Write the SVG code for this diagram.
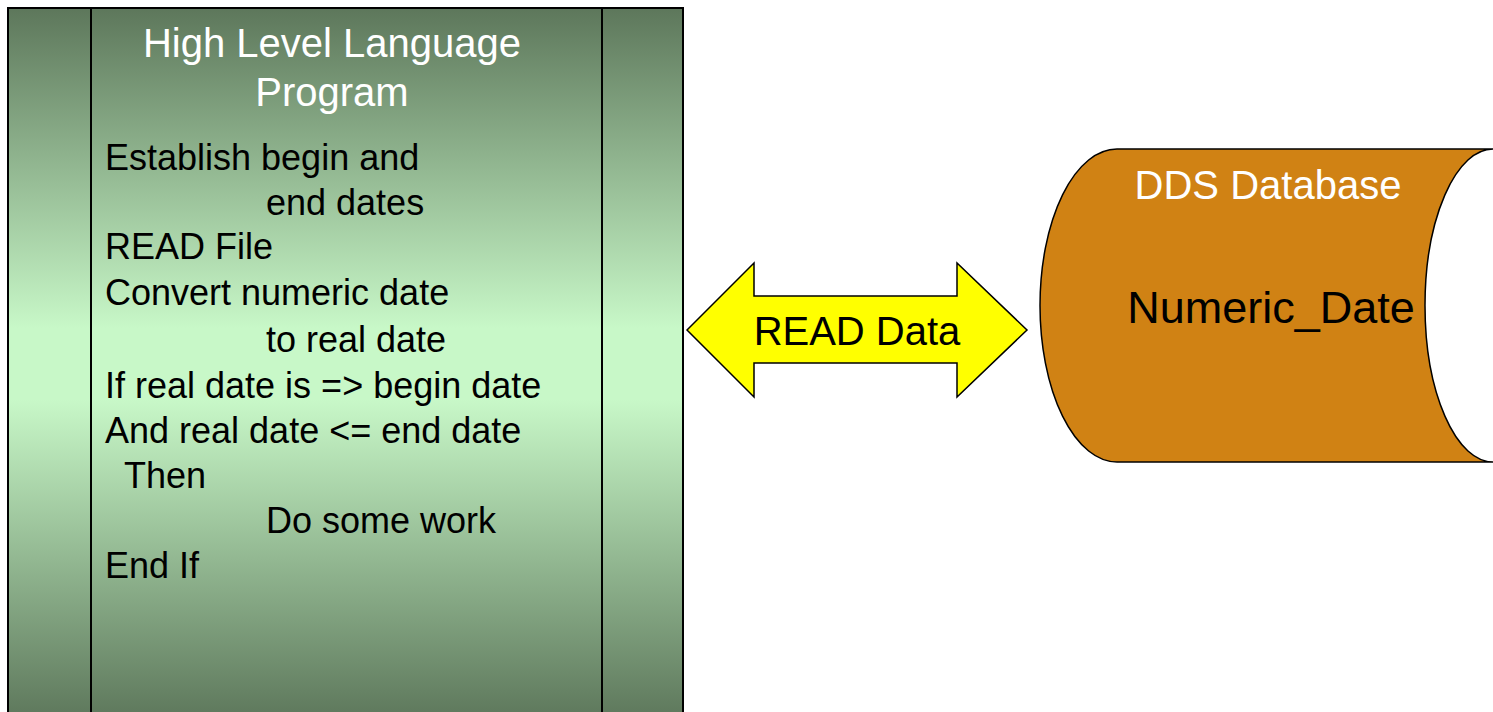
<svg xmlns="http://www.w3.org/2000/svg" width="1493" height="712" viewBox="0 0 1493 712">
  <style>
    .title { font-family: "Liberation Sans", Arial, sans-serif; font-size: 40px; fill: #ffffff; }
    .code { font-family: "Liberation Sans", Arial, sans-serif; font-size: 36px; fill: #000000; }
    .label { font-family: "Liberation Sans", Arial, sans-serif; font-size: 40px; fill: #000000; }
    .outline { stroke: #000000; stroke-width: 2; }
  </style>
  <defs>
    <linearGradient id="panelFill" gradientUnits="userSpaceOnUse" x1="0" y1="8" x2="0" y2="720">
      <stop offset="0" stop-color="#5d775b"/>
      <stop offset="0.45" stop-color="#c8f8c8"/>
      <stop offset="0.55" stop-color="#c8f8c8"/>
      <stop offset="1" stop-color="#5d775b"/>
    </linearGradient>
  </defs>
  <rect width="1493" height="712" fill="#ffffff"/>

  <!-- Program panel (predefined-process style box) -->
  <g id="program">
    <rect x="8" y="8" width="675" height="720" fill="url(#panelFill)" class="outline"/>
    <line x1="91" y1="8" x2="91" y2="728" class="outline"/>
    <line x1="602" y1="8" x2="602" y2="728" class="outline"/>
    <text class="title" x="332" y="57" text-anchor="middle">High Level Language</text>
    <text class="title" x="332" y="106" text-anchor="middle">Program</text>
    <text class="code" x="105" y="170">Establish begin and</text>
    <text class="code" x="266" y="215">end dates</text>
    <text class="code" x="105" y="259">READ File</text>
    <text class="code" x="105" y="305">Convert numeric date</text>
    <text class="code" x="266" y="352">to real date</text>
    <text class="code" x="105" y="398">If real date is =&gt; begin date</text>
    <text class="code" x="105" y="443">And real date &lt;= end date</text>
    <text class="code" x="124" y="488">Then</text>
    <text class="code" x="266" y="533">Do some work</text>
    <text class="code" x="105" y="578">End If</text>
  </g>

  <!-- Double-headed data flow -->
  <g id="connectors">
    <g id="read-data">
      <polygon points="687,330 754,263 754,296 957,296 957,263 1027,330 957,397 957,363 754,363 754,397"
               fill="#ffff00" stroke="#000000" stroke-width="1.5" stroke-linejoin="miter"/>
      <text class="label" x="857" y="345" text-anchor="middle">READ Data</text>
    </g>
  </g>

  <!-- Stored data shape -->
  <g id="database">
    <path d="M1117,149 L1493,149 A68,156.5 0 0 0 1493,462 L1117,462 A77,156.5 0 0 1 1117,149 Z"
          fill="#d08214" stroke="#000000" stroke-width="1.5"/>
    <text class="title" x="1268" y="199" text-anchor="middle">DDS Database</text>
    <text class="label" x="1271" y="323" text-anchor="middle" style="font-size:45px">Numeric_Date</text>
  </g>
</svg>
